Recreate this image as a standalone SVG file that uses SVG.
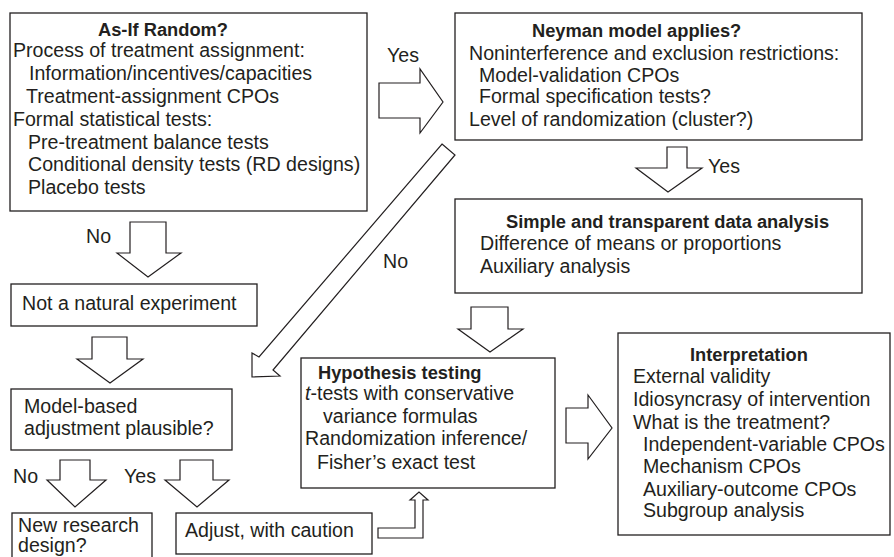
<svg xmlns="http://www.w3.org/2000/svg" width="894" height="557" viewBox="0 0 894 557">
<style>
.box{fill:#fff;stroke:#231f20;stroke-width:1.3}
.arr{fill:#fff;stroke:#231f20;stroke-width:1.2;stroke-linejoin:miter}
text{font-family:"Liberation Sans",Arial,sans-serif;font-size:19.6px;fill:#231f20}
.t{font-weight:bold;font-size:18.3px}
</style>
<rect width="894" height="557" fill="#fff"/>
<g id="connectors">
<polygon class="arr" points="379,83 420,83 420,69 443,102 420,133 420,118 379,118"/>
<polygon class="arr" points="667,147 687,147 687,168 702,168 668,192 636,168 667,168"/>
<polygon class="arr" points="130,222 166,222 166,253 181,253 148,277 117,253 130,253"/>
<polygon class="arr" points="92,337 127,337 127,359 143,359 110,383 77,359 92,359"/>
<polygon class="arr" points="471,307 508,307 508,329 523,329 490,352 458,329 471,329"/>
<polygon class="arr" points="60,460 90,460 90,480 106,480 75,507 47,480 60,480"/>
<polygon class="arr" points="180,460 213,460 213,480 229,480 197,507 165,480 180,480"/>
<polygon class="arr" points="566,408 588,408 588,395 612,428 588,459 588,443 566,443"/>
<polygon class="arr" points="442,144 455,155 273,370 280,376 252,377 252,353 259,357"/>
<polygon class="arr" points="378,528 415,528 415,500 410,500 419,492 428,500 423,500 423,538 378,538"/>
<text x="387" y="62">Yes</text>
<text x="708" y="173">Yes</text>
<text x="86" y="243">No</text>
<text x="383" y="268">No</text>
<text x="13" y="483">No</text>
<text x="124" y="483">Yes</text>
</g>
<g id="asif">
<rect class="box" x="10" y="13" width="357" height="198"/>
<text class="t" x="98" y="36">As-If Random?</text>
<text x="13" y="57">Process of treatment assignment:</text>
<text x="29" y="80">Information/incentives/capacities</text>
<text x="26" y="103">Treatment-assignment CPOs</text>
<text x="13" y="126">Formal statistical tests:</text>
<text x="28" y="149">Pre-treatment balance tests</text>
<text x="28" y="171">Conditional density tests (RD designs)</text>
<text x="28" y="194">Placebo tests</text>
</g>
<g id="neyman">
<rect class="box" x="455" y="13" width="407" height="127"/>
<text class="t" x="532" y="37">Neyman model applies?</text>
<text x="469" y="60">Noninterference and exclusion restrictions:</text>
<text x="479" y="82">Model-validation CPOs</text>
<text x="479" y="103">Formal specification tests?</text>
<text x="469" y="126">Level of randomization (cluster?)</text>
</g>
<g id="simple">
<rect class="box" x="455" y="199" width="407" height="94"/>
<text class="t" x="506" y="228">Simple and transparent data analysis</text>
<text x="480" y="250">Difference of means or proportions</text>
<text x="480" y="273">Auxiliary analysis</text>
</g>
<g id="notnatural">
<rect class="box" x="11" y="284" width="246" height="42"/>
<text x="22" y="310">Not a natural experiment</text>
</g>
<g id="modelbased">
<rect class="box" x="11" y="389" width="221" height="61"/>
<text x="24" y="413">Model-based</text>
<text x="24" y="435">adjustment plausible?</text>
</g>
<g id="newdesign">
<rect class="box" x="12" y="513" width="140" height="60"/>
<text x="18" y="532">New research</text>
<text x="18" y="552">design?</text>
</g>
<g id="adjust">
<rect class="box" x="176" y="513" width="196" height="41"/>
<text x="185" y="537">Adjust, with caution</text>
</g>
<g id="hypothesis">
<rect class="box" x="301" y="358" width="254" height="130"/>
<text class="t" x="318" y="379">Hypothesis testing</text>
<text x="305" y="400"><tspan font-style="italic">t</tspan>-tests with conservative</text>
<text x="323" y="423">variance formulas</text>
<text x="305" y="445">Randomization inference/</text>
<text x="317" y="469">Fisher’s exact test</text>
</g>
<g id="interpretation">
<rect class="box" x="618" y="333" width="272" height="202"/>
<text class="t" x="690" y="361">Interpretation</text>
<text x="633" y="383">External validity</text>
<text x="633" y="406">Idiosyncrasy of intervention</text>
<text x="633" y="429">What is the treatment?</text>
<text x="643" y="451">Independent-variable CPOs</text>
<text x="643" y="473">Mechanism CPOs</text>
<text x="643" y="496">Auxiliary-outcome CPOs</text>
<text x="643" y="517">Subgroup analysis</text>
</g>
</svg>
